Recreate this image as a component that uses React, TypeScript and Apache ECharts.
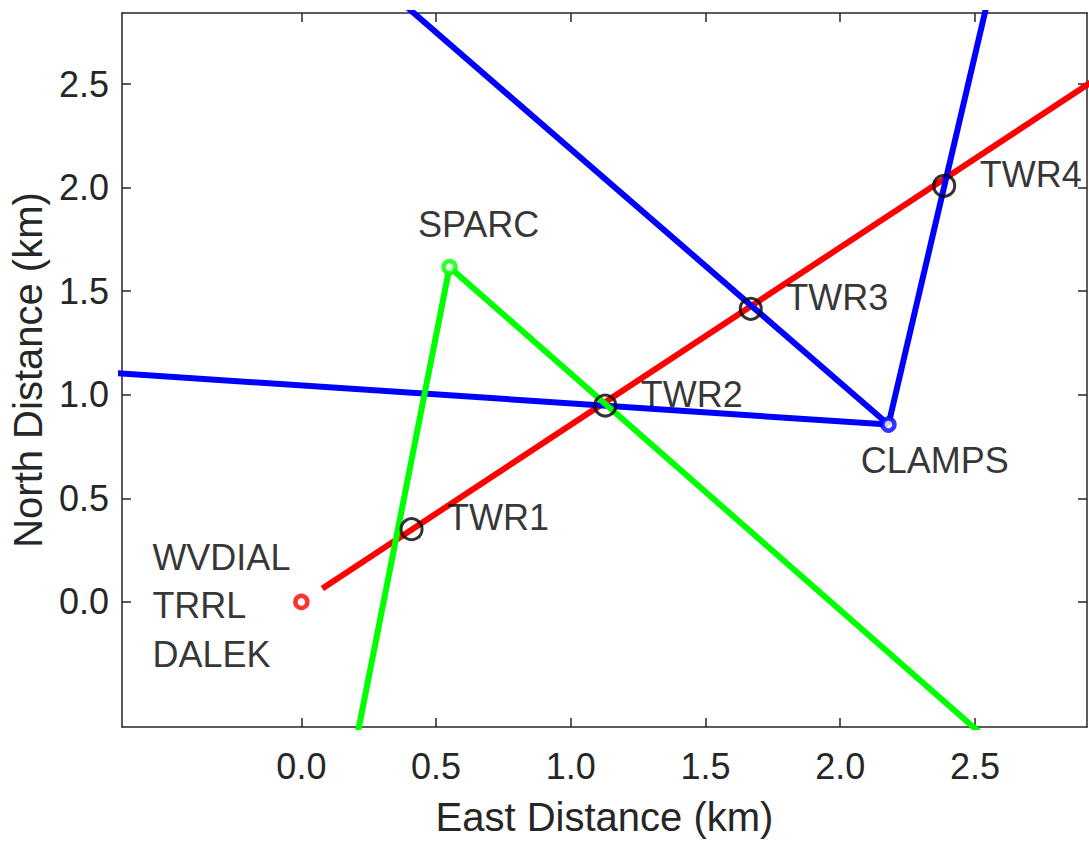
import React, { useEffect, useRef } from 'react';
import * as echarts from 'echarts';

// Axis ticks / ranges (km)
const xTicks = [0, 0.5, 1, 1.5, 2, 2.5];
const yTicks = [0, 0.5, 1, 1.5, 2, 2.5];
const xRange = [-0.666, 2.916];
const yRange = [-0.604, 2.843];

// Instrument sites
const stationNames = ['WVDIAL', 'SPARC', 'CLAMPS'];
const stationLabels = ['WVDIAL\nTRRL\nDALEK', 'SPARC', 'CLAMPS'];
const stationX = [0, 0.55, 2.179];
const stationY = [0, 1.616, 0.856];

// Towers
const towerNames = ['TWR1', 'TWR2', 'TWR3', 'TWR4'];
const towerX = [0.409, 1.128, 1.668, 2.386];
const towerY = [0.351, 0.948, 1.415, 2.009];

// Beams (start, end) in km
const redBeam = [[0.078, 0.065], [3.0, 2.568]];
const blueBeams = [
  [[2.179, 0.856], [-0.75, 1.11]],
  [[2.179, 0.856], [0.278, 3.0]],
  [[2.179, 0.856], [2.565, 3.0]],
];
const greenBeams = [
  [[0.55, 1.616], [0.199, -0.7]],
  [[0.55, 1.616], [2.578, -0.7]],
];

const RED = '#ff0000';
const BLUE = '#0000ff';
const GREEN = '#00ff00';
const AXIS = '#262626';
const FONT = '"Liberation Sans", Arial, Helvetica, sans-serif';

export default function App() {
  const ref = useRef<HTMLDivElement>(null);

  useEffect(() => {
    if (!ref.current) return;
    const chart = echarts.init(ref.current, undefined, { renderer: 'svg' });

    const stationColors = [RED, GREEN, BLUE];
    const stationLabelStyles: any[] = [
      { align: 'left', offset: [-149, 4], lineHeight: 48.7 },
      { align: 'center', offset: [29, -43] },
      { align: 'left', offset: [-27.6, 36] },
    ];

    const axisLineStyle = { color: AXIS, width: 1.5 };
    const mkX = (pos: 'bottom' | 'top', main: boolean) => ({
      type: 'value',
      position: pos,
      min: xRange[0],
      max: xRange[1],
      axisLine: { show: true, onZero: false, lineStyle: axisLineStyle },
      axisTick: { show: true, inside: true, length: 9, customValues: xTicks, lineStyle: axisLineStyle },
      axisLabel: main
        ? { show: true, customValues: xTicks, formatter: (v: number) => v.toFixed(1), fontSize: 36, color: AXIS, margin: 21, fontFamily: FONT }
        : { show: false },
      splitLine: { show: false },
      name: main ? 'East Distance (km)' : '',
      nameLocation: 'middle',
      nameGap: 70,
      nameTextStyle: { fontSize: 40, color: AXIS, fontFamily: FONT },
    });
    const mkY = (pos: 'left' | 'right', main: boolean) => ({
      type: 'value',
      position: pos,
      min: yRange[0],
      max: yRange[1],
      axisLine: { show: true, onZero: false, lineStyle: axisLineStyle },
      axisTick: { show: true, inside: true, length: 9, customValues: yTicks, lineStyle: axisLineStyle },
      axisLabel: main
        ? { show: true, customValues: yTicks, formatter: (v: number) => v.toFixed(1), fontSize: 36, color: AXIS, margin: 13, fontFamily: FONT }
        : { show: false },
      splitLine: { show: false },
      name: main ? 'North Distance (km)' : '',
      nameLocation: 'middle',
      nameGap: 68,
      nameTextStyle: { fontSize: 40, color: AXIS, fontFamily: FONT },
    });

    const beamSeries = (data: number[][], color: string) => ({
      type: 'line',
      data,
      symbol: 'none',
      silent: true,
      clip: true,
      z: 2,
      lineStyle: { color, width: 6, cap: 'butt' },
    });

    const option: any = {
      animation: false,
      grid: { left: 121, right: 2, top: 13, bottom: 114 },
      xAxis: [mkX('bottom', true), mkX('top', false)],
      yAxis: [mkY('left', true), mkY('right', false)],
      series: [
        beamSeries(redBeam, RED),
        ...blueBeams.map((b) => beamSeries(b, BLUE)),
        ...greenBeams.map((b) => beamSeries(b, GREEN)),
        {
          type: 'scatter',
          silent: true,
          z: 10,
          symbol: 'circle',
          symbolSize: 12,
          data: stationNames.map((n, i) => ({
            name: n,
            value: [stationX[i], stationY[i]],
            itemStyle: { color: '#ffffff', borderColor: stationColors[i], borderWidth: 4.5 },
            label: {
              show: true,
              position: 'inside',
              verticalAlign: 'middle',
              formatter: stationLabels[i],
              fontSize: 36,
              color: '#000000',
              fontFamily: FONT,
              textBorderWidth: 0,
              ...stationLabelStyles[i],
            },
          })),
        },
        {
          type: 'scatter',
          silent: true,
          z: 10,
          symbol: 'circle',
          symbolSize: 21,
          itemStyle: { color: 'rgba(0,0,0,0)', borderColor: '#000000', borderWidth: 3 },
          label: {
            show: true,
            position: 'inside',
            align: 'left',
            verticalAlign: 'middle',
            offset: [35.5, -11.3],
            formatter: '{b}',
            fontSize: 36,
            color: '#000000',
            fontFamily: FONT,
            textBorderWidth: 0,
          },
          data: towerNames.map((n, i) => ({ name: n, value: [towerX[i], towerY[i]] })),
        },
      ],
    };

    chart.setOption(option);
    return () => chart.dispose();
  }, []);

  return (
    <div
      ref={ref}
      style={{ position: 'absolute', left: 0, top: 0, width: 1089, height: 842, background: '#ffffff' }}
    />
  );
}
